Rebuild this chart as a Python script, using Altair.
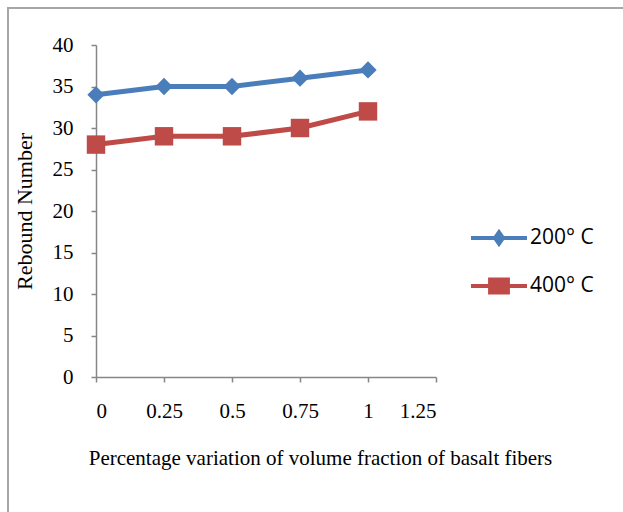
import altair as alt
import pandas as pd

x_vals = [0, 0.25, 0.5, 0.75, 1]
series_names = ["200° C", "400° C"]
rebound_200 = [34, 35, 35, 36, 37]
rebound_400 = [28, 29, 29, 30, 32]
colors = ["#4a7ebb", "#be4b48"]
marker_shapes = ["diamond", "square"]
marker_sizes = [300, 340]

rows = []
for name, vals in zip(series_names, [rebound_200, rebound_400]):
    for xv, yv in zip(x_vals, vals):
        rows.append({"x": xv, "y": yv, "series": name})
df = pd.DataFrame(rows)
leg_df = pd.DataFrame({"series": series_names})

W, H = 340, 332
LEFT, TOP = 96, 45

xenc = alt.X("x:Q", scale=alt.Scale(domain=[0, 1.25], nice=False),
             axis=alt.Axis(values=[0, 0.25, 0.5, 0.75, 1, 1.25], title="Percentage variation of volume fraction of basalt fibers",
                           labelPadding=18, titlePadding=26, grid=False, titleX=224, titleAlign="center",
                           titleFontSize=21,
                           labelExpr="datum.value == 0 ? '0' : format(datum.value, '')"))
yenc = alt.Y("y:Q", scale=alt.Scale(domain=[0, 40], nice=False),
             axis=alt.Axis(values=list(range(0, 45, 5)), title="Rebound Number",
                           labelPadding=18, titlePadding=16, grid=False, titleFontSize=22))

color_scale = alt.Scale(domain=series_names, range=colors)

layers = []
for i, name in enumerate(series_names):
    base = alt.Chart(df).transform_filter(alt.datum.series == name)
    layers.append(base.mark_line(strokeWidth=5, color=colors[i]).encode(x=xenc, y=yenc))
for i, name in enumerate(series_names):
    base = alt.Chart(df).transform_filter(alt.datum.series == name)
    layers.append(base.mark_point(shape=marker_shapes[i], filled=True, size=marker_sizes[i],
                                  opacity=1, color=colors[i], strokeWidth=0).encode(x="x:Q", y="y:Q"))

diamond_path = "M-1,-0.075L-0.18,-0.075L0,-0.33L0.18,-0.075L1,-0.075L1,0.075L0.18,0.075L0,0.33L-0.18,0.075L-1,0.075Z"
square_path = "M-1,-0.075L-0.39,-0.075L-0.39,-0.3L0.39,-0.3L0.39,-0.075L1,-0.075L1,0.075L0.39,0.075L0.39,0.3L-0.39,0.3L-0.39,0.075L-1,0.075Z"

leg = alt.Legend(
    title=None, orient="none", legendX=375, legendY=178, padding=0,
    labelFont="Open Sans", labelFontSize=21, labelColor="black", symbolSize=3136,
    labelOffset=3, clipHeight=30, rowPadding=18, symbolStrokeWidth=0, symbolOpacity=1)

# legend-only layer: its marks sit outside the plot and are clipped away
legend_layer = alt.Chart(leg_df).mark_point(
    filled=True, size=3136, opacity=1, strokeWidth=0, clip=True).encode(
    x=alt.value(-500), y=alt.value(-500),
    color=alt.Color("series:N", scale=color_scale, legend=leg),
    shape=alt.Shape("series:N", scale=alt.Scale(domain=series_names, range=[diamond_path, square_path]), legend=leg),
)

frame_top = alt.Chart(leg_df).mark_rule(stroke="#a6a6a6", strokeWidth=2, clip=False).encode(
    x=alt.value(8 - LEFT), x2=alt.value(640 - LEFT), y=alt.value(8 - TOP))
frame_left = alt.Chart(leg_df).mark_rule(stroke="#a6a6a6", strokeWidth=2, clip=False).encode(
    x=alt.value(8 - LEFT), y=alt.value(7 - TOP), y2=alt.value(540 - TOP))

chart = alt.layer(frame_top, frame_left, *layers, legend_layer).properties(
    width=W, height=H,
    autosize=alt.AutoSizeParams(type="none"),
    padding={"left": LEFT, "top": TOP, "right": 623 - LEFT - W, "bottom": 512 - TOP - H},
    background="white",
).configure_view(stroke=None).configure_axis(
    domainColor="#868686", tickColor="#868686", domainWidth=1.5, tickWidth=1.5, tickSize=5,
    labelFont="Liberation Serif", labelFontSize=21, labelColor="black",
    titleFont="Liberation Serif", titleColor="black", titleFontWeight="normal",
)

chart.save("out.html", embed_options={"renderer": "svg", "actions": False})
